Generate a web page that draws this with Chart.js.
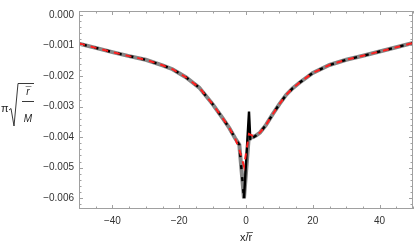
<!DOCTYPE html>
<html><head><meta charset="utf-8">
<script src="https://cdn.jsdelivr.net/npm/chart.js@4.4.0/dist/chart.umd.min.js"></script>
<style>html,body{margin:0;padding:0;background:#fff}#wrap{width:415px;height:245px}</style>
</head><body><div id="wrap"><canvas id="c" width="415" height="245"></canvas></div>
<script>
const xs = [-50,-45,-40,-35,-30,-25,-22,-18,-14,-10,-7,-5,-3.3,-2,-0.6,0.9,1.3,2,3,4.2,6,8,10,12,14,16,20,25,30,35,40,45,50];
const grayVals = [-0.00094,-0.00108,-0.00122,-0.00135,-0.00147,-0.00165,-0.00178,-0.00204,-0.00238,-0.00292,-0.00338,-0.00370,-0.00403,-0.00425,-0.00600,-0.00390,-0.00400,-0.00400,-0.00395,-0.00385,-0.00360,-0.00325,-0.00292,-0.00262,-0.00240,-0.00222,-0.00190,-0.00164,-0.00147,-0.00134,-0.00120,-0.00106,-0.00092];
const blackVals = [-0.00094,-0.00108,-0.00122,-0.00135,-0.00147,-0.00165,-0.00178,-0.00204,-0.00238,-0.00292,-0.00338,-0.00370,-0.00403,-0.00425,-0.00600,-0.00316,-0.00410,-0.00402,-0.00395,-0.00385,-0.00360,-0.00325,-0.00292,-0.00262,-0.00240,-0.00222,-0.00190,-0.00164,-0.00147,-0.00134,-0.00120,-0.00106,-0.00092];
const redVals = [-0.00094,-0.00108,-0.00122,-0.00135,-0.00147,-0.00165,-0.00178,-0.00204,-0.00238,-0.00292,-0.00338,-0.00370,-0.00403,-0.00440,-0.00495,-0.00390,-0.00392,-0.00395,-0.00393,-0.00385,-0.00360,-0.00325,-0.00292,-0.00262,-0.00240,-0.00222,-0.00190,-0.00164,-0.00147,-0.00134,-0.00120,-0.00106,-0.00092];
const xTicks = [-40,-20,0,20,40];
const yTicks = [0,-0.001,-0.002,-0.003,-0.004,-0.005,-0.006];
const yTickLabels = ['0.000','\u22120.001','\u22120.002','\u22120.003','\u22120.004','\u22120.005','\u22120.006'];
const xTickLabels = ['\u221240','\u221220','0','20','40'];
const xMinor = 5, yMinor = 0.0002;

const pts = v => xs.map((x,i)=>({x:x,y:v[i]}));
const FONT = '"Liberation Sans", Arial, sans-serif';

const framePlugin = {
  id:'frame',
  afterDraw(chart){
    const {ctx, chartArea:a, scales:{x,y}} = chart;
    ctx.save();
    ctx.strokeStyle = '#a0a0a0'; ctx.lineWidth = 1;
    ctx.strokeRect(a.left+0.5, a.top+0.5, a.right-a.left-1, a.bottom-a.top-1);
    ctx.beginPath();
    for (let v=-50; v<=50+1e-9; v+=xMinor){
      const px = Math.round(x.getPixelForValue(v))+0.5;
      const major = Math.abs(v%20)<1e-9;
      const L = major?4:2.5;
      ctx.moveTo(px,a.bottom); ctx.lineTo(px,a.bottom-L);
      ctx.moveTo(px,a.top); ctx.lineTo(px,a.top+L);
    }
    for (let k=1; k>=-32; k--){
      const v = k*yMinor;
      const py = y.getPixelForValue(v);
      if (py < a.top || py > a.bottom) continue;
      const pyr = Math.round(py)+0.5;
      const major = (k%5)===0;
      const L = major?4:2.5;
      ctx.moveTo(a.left,pyr); ctx.lineTo(a.left+L,pyr);
      ctx.moveTo(a.right,pyr); ctx.lineTo(a.right-L,pyr);
    }
    ctx.stroke();
    ctx.fillStyle = '#222';
    ctx.font = '11px ' + FONT;
    ctx.textBaseline = 'middle';
    ctx.textAlign = 'center';
    ctx.fillText('x/r\u0305', 246, 238);
    ctx.textAlign = 'left';
    ctx.font = '11px ' + FONT;
    ctx.fillText('\u03c0', 1, 109);
    ctx.font = 'italic 10px ' + FONT;
    ctx.textAlign = 'center';
    ctx.fillText('r\u0305', 28, 92);
    ctx.fillText('M', 28, 119);
    ctx.strokeStyle = '#222'; ctx.lineWidth = 0.9;
    ctx.beginPath();
    ctx.moveTo(22,101.5); ctx.lineTo(34,101.5);
    ctx.moveTo(9,110); ctx.lineTo(11,108.5); ctx.lineTo(14,126); ctx.lineTo(18,83.5); ctx.lineTo(34,83.5);
    ctx.stroke();
    ctx.restore();
  }
};

const spikeSolid = c => (xs[c.p0DataIndex] >= -0.6 && xs[c.p1DataIndex] <= 1.3) ? [] : undefined;

new Chart(document.getElementById('c'), {
  type:'line',
  data:{datasets:[
    {data:pts(redVals), borderColor:'#ff2020', borderWidth:2, borderDash:[6,6], pointRadius:0, tension:0, order:1},
    {data:pts(blackVals), borderColor:'#000', borderWidth:2.4, borderDash:[4,8], borderDashOffset:8, pointRadius:0, tension:0, order:2,
      segment:{borderDash: c => (xs[c.p0DataIndex] >= 0.9 - 1e-9 && xs[c.p1DataIndex] <= 1.3 + 1e-9) || (xs[c.p0DataIndex] >= -0.6-1e-9 && xs[c.p1DataIndex] <= 0.9+1e-9) ? [] : undefined}},
    {data:pts(grayVals), borderColor:'#858585', borderWidth:4, pointRadius:0, tension:0, order:3}
  ]},
  options:{
    responsive:false, animation:false, events:[],
    layout:{padding:{top:2,right:2,left:0,bottom:0}},
    plugins:{legend:{display:false}, tooltip:{enabled:false}},
    scales:{
      x:{type:'linear', min:-50, max:50,
        afterBuildTicks(s){ s.ticks = xTicks.map(v=>({value:v})); },
        afterFit(s){ s.height = 36; },
        grid:{display:false, drawTicks:false}, border:{display:false},
        ticks:{padding:6, color:'#333', font:{family:FONT,size:10}, maxRotation:0,
          callback:(v)=>{const i=xTicks.indexOf(v); return i>=0?xTickLabels[i]:'';}}
      },
      y:{type:'linear', min:-0.00635, max:0.000125,
        afterBuildTicks(s){ s.ticks = yTicks.map(v=>({value:v})); },
        afterFit(s){ s.width = 79; },
        grid:{display:false, drawTicks:false}, border:{display:false},
        ticks:{padding:5, color:'#333', font:{family:FONT,size:10},
          callback:(v)=>{const i=yTicks.findIndex(t=>Math.abs(t-v)<1e-12); return i>=0?yTickLabels[i]:'';}}
      }
    }
  },
  plugins:[framePlugin]
});
</script></body></html>
